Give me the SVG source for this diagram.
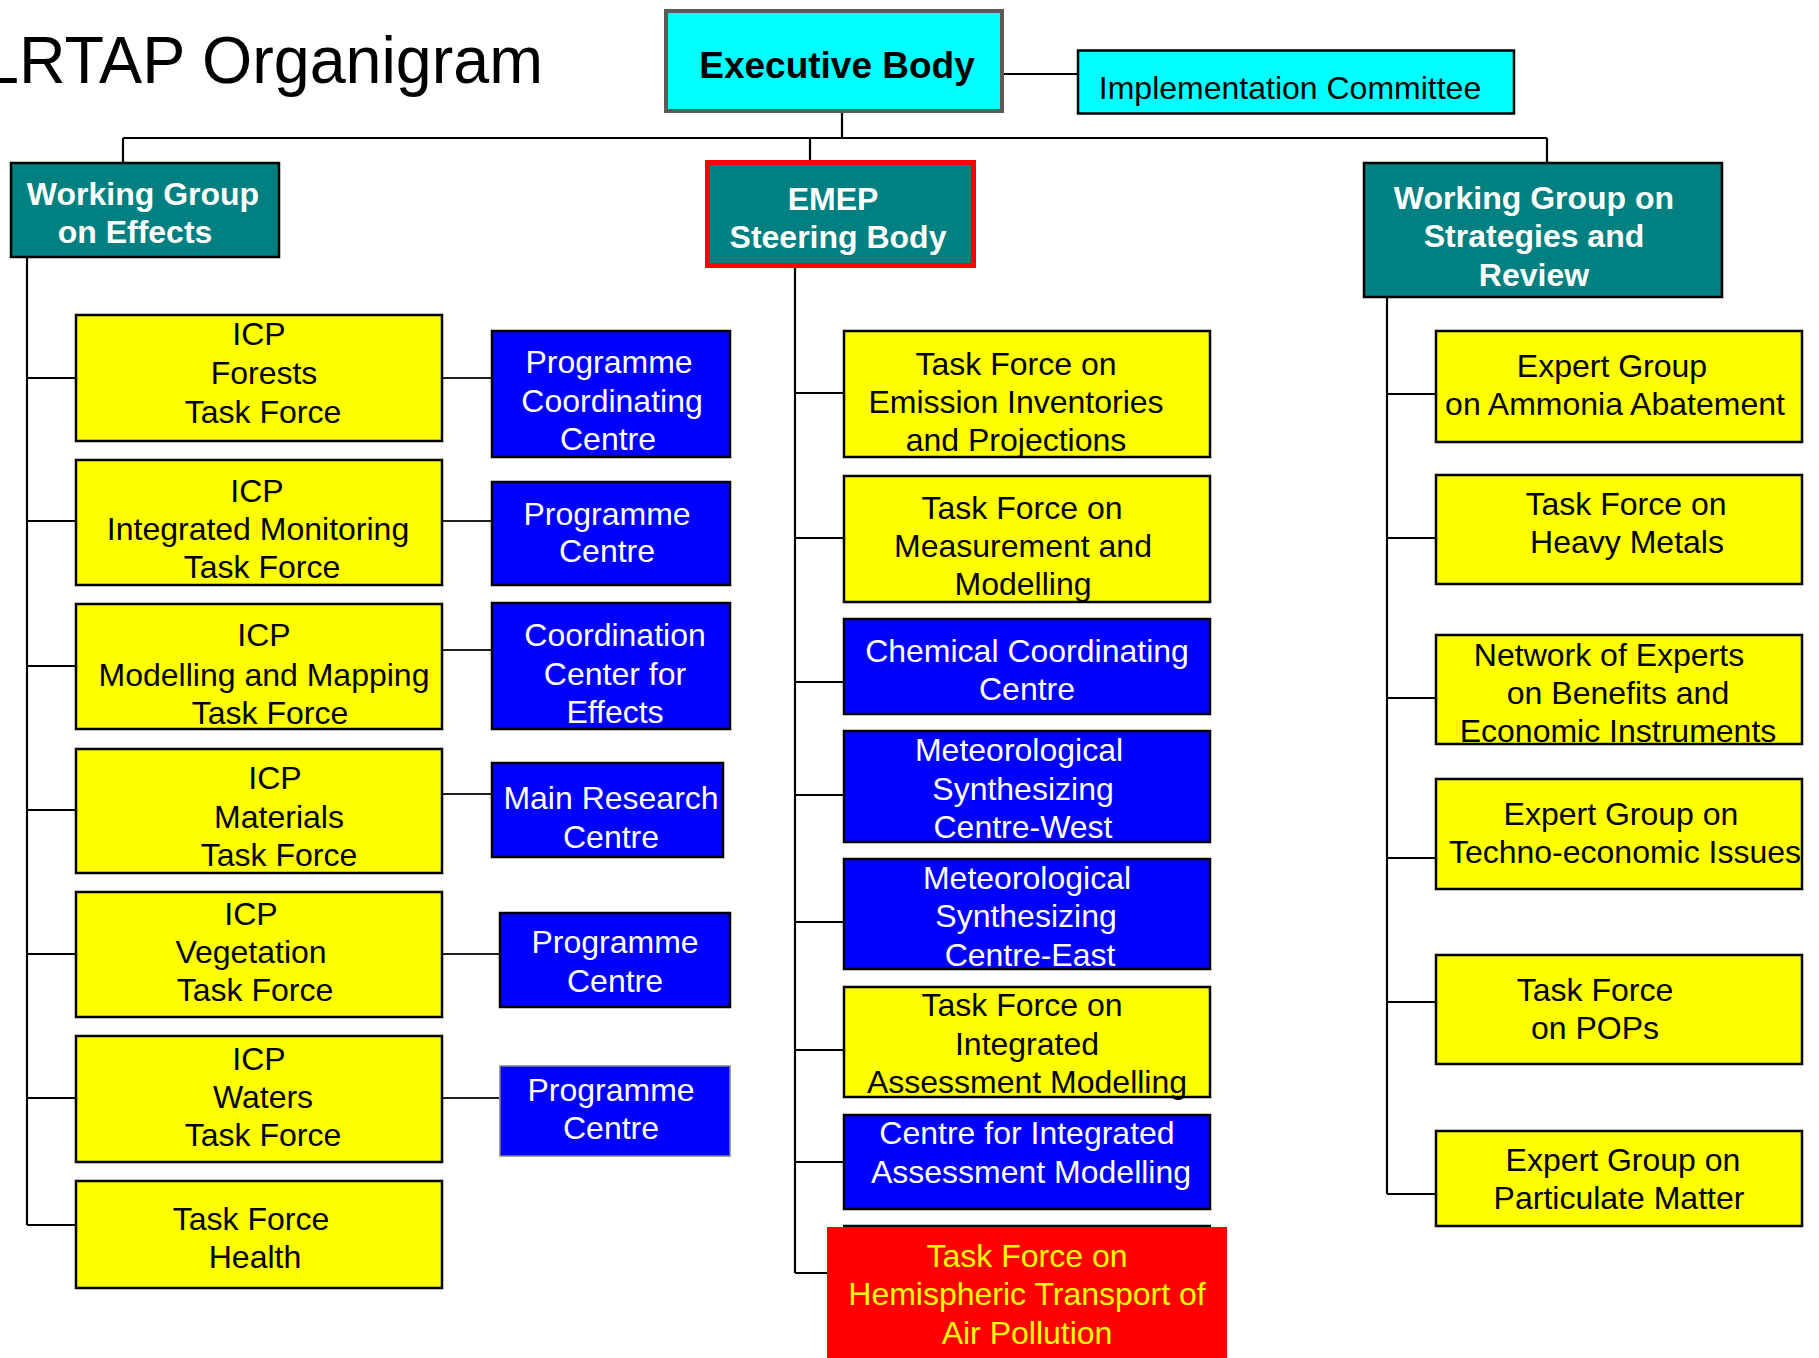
<svg xmlns="http://www.w3.org/2000/svg" width="1819" height="1358" viewBox="0 0 1819 1358">
<style>
rect{stroke:#000;stroke-width:2.5}
.y{fill:#FFFF00}
.b{fill:#0000FF}
.t{fill:#008080}
.c{fill:#00FFFF}
text{font-family:"Liberation Sans",Arial,Helvetica,sans-serif;font-size:32px;text-anchor:middle;fill:#000}
.w{fill:#fff}
.bd{font-weight:bold}
.yt{fill:#FFFF00}
#connectors path{fill:none;stroke:#000;stroke-width:2.2}
</style>
<rect x="0" y="0" width="1819" height="1358" style="fill:#fff;stroke:none"/>
<text x="-17" y="83" style="font-size:66px;text-anchor:start" textLength="560" lengthAdjust="spacingAndGlyphs">LRTAP Organigram</text>
<g id="connectors">
<path d="M1004 74H1077M842 113V138M123 138H1547M123 138V162M810 138V160M1547 138V162"/>
<path d="M27 258V1225M27 378H75M27 521H75M27 666H75M27 810H75M27 954H75M27 1098H75M27 1225H75"/>
<path d="M443 378H491M443 521H491M443 650H491M443 794H491M443 954H499M443 1098H499" style="stroke:#222"/>
<path d="M795 268V1273M795 393H843M795 538H843M795 682H843M795 795H843M795 922H843M795 1050H843M795 1162H843M795 1273H827"/>
<path d="M1387 298V1194M1387 394H1435M1387 538H1435M1387 698H1435M1387 858H1435M1387 1002H1435M1387 1194H1435"/>
</g>
<g id="executive-body"><rect class="c" x="666" y="11" width="336" height="100" style="stroke:#5f5a55;stroke-width:4"/><text class="bd" x="837" y="78" style="font-size:37px">Executive Body</text></g>
<g id="implementation-committee"><rect class="c" x="1078" y="50.5" width="436" height="63"/><text x="1290" y="99">Implementation Committee</text></g>
<g id="wg-effects"><rect class="t" x="11" y="163" width="268" height="94"/><text class="w bd" x="143" y="205">Working Group</text><text class="w bd" x="135" y="243">on Effects</text></g>
<g id="emep"><rect class="t" x="707.5" y="162.5" width="266" height="103" style="stroke:#FF0000;stroke-width:5"/><text class="w bd" x="833" y="210">EMEP</text><text class="w bd" x="838" y="248">Steering Body</text></g>
<g id="wgsr"><rect class="t" x="1364" y="163" width="358" height="134"/><text class="w bd" x="1534" y="209">Working Group on</text><text class="w bd" x="1534" y="247">Strategies and</text><text class="w bd" x="1534" y="286">Review</text></g>

<g id="icp-forests"><rect class="y" x="76" y="315" width="366" height="126"/><text x="259" y="345">ICP</text><text x="264" y="384">Forests</text><text x="263" y="423">Task Force</text></g>
<g id="icp-im"><rect class="y" x="76" y="460" width="366" height="125"/><text x="257" y="502">ICP</text><text x="258" y="540">Integrated Monitoring</text><text x="262" y="578">Task Force</text></g>
<g id="icp-mm"><rect class="y" x="76" y="604" width="366" height="125"/><text x="264" y="646">ICP</text><text x="264" y="686">Modelling and Mapping</text><text x="270" y="724">Task Force</text></g>
<g id="icp-materials"><rect class="y" x="76" y="749" width="366" height="124"/><text x="275" y="789">ICP</text><text x="279" y="828">Materials</text><text x="279" y="866">Task Force</text></g>
<g id="icp-vegetation"><rect class="y" x="76" y="892" width="366" height="125"/><text x="251" y="925">ICP</text><text x="251" y="963">Vegetation</text><text x="255" y="1001">Task Force</text></g>
<g id="icp-waters"><rect class="y" x="76" y="1036" width="366" height="126"/><text x="259" y="1070">ICP</text><text x="263" y="1108">Waters</text><text x="263" y="1146">Task Force</text></g>
<g id="tf-health"><rect class="y" x="76" y="1181" width="366" height="107"/><text x="251" y="1230">Task Force</text><text x="255" y="1268">Health</text></g>

<g id="pcc"><rect class="b" x="492" y="331" width="238" height="126"/><text class="w" x="609" y="373">Programme</text><text class="w" x="612" y="412">Coordinating</text><text class="w" x="608" y="450">Centre</text></g>
<g id="pc-im"><rect class="b" x="492" y="482" width="238" height="103"/><text class="w" x="607" y="525">Programme</text><text class="w" x="607" y="562">Centre</text></g>
<g id="cce"><rect class="b" x="492" y="603" width="238" height="126"/><text class="w" x="615" y="646">Coordination</text><text class="w" x="615" y="685">Center for</text><text class="w" x="615" y="723">Effects</text></g>
<g id="mrc"><rect class="b" x="492" y="763" width="231" height="94"/><text class="w" x="611" y="809">Main Research</text><text class="w" x="611" y="848">Centre</text></g>
<g id="pc-veg"><rect class="b" x="500" y="913" width="230" height="94"/><text class="w" x="615" y="953">Programme</text><text class="w" x="615" y="992">Centre</text></g>
<g id="pc-waters"><rect class="b" x="500" y="1066" width="230" height="90" style="stroke:#808080;stroke-width:1.5"/><text class="w" x="611" y="1101">Programme</text><text class="w" x="611" y="1139">Centre</text></g>

<g id="tf-eip"><rect class="y" x="844" y="331" width="366" height="126"/><text x="1016" y="375">Task Force on</text><text x="1016" y="413">Emission Inventories</text><text x="1016" y="451">and Projections</text></g>
<g id="tf-mm"><rect class="y" x="844" y="476" width="366" height="126"/><text x="1022" y="519">Task Force on</text><text x="1023" y="557">Measurement and</text><text x="1023" y="595">Modelling</text></g>
<g id="ccc"><rect class="b" x="844" y="619" width="366" height="95"/><text class="w" x="1027" y="662">Chemical Coordinating</text><text class="w" x="1027" y="700">Centre</text></g>
<g id="msc-w"><rect class="b" x="844" y="731" width="366" height="111"/><text class="w" x="1019" y="761">Meteorological</text><text class="w" x="1023" y="800">Synthesizing</text><text class="w" x="1023" y="838">Centre-West</text></g>
<g id="msc-e"><rect class="b" x="844" y="859" width="366" height="110"/><text class="w" x="1027" y="889">Meteorological</text><text class="w" x="1026" y="927">Synthesizing</text><text class="w" x="1030" y="966">Centre-East</text></g>
<g id="tf-iam"><rect class="y" x="844" y="987" width="366" height="110"/><text x="1022" y="1016">Task Force on</text><text x="1027" y="1055">Integrated</text><text x="1027" y="1093">Assessment Modelling</text></g>
<g id="ciam"><rect class="b" x="844" y="1115" width="366" height="94"/><text class="w" x="1027" y="1144">Centre for Integrated</text><text class="w" x="1031" y="1183">Assessment Modelling</text></g>
<g id="tf-htap"><path d="M843 1226H1211" style="stroke:#000;stroke-width:2.5"/><rect x="827" y="1227" width="400" height="131" style="fill:#FF0000;stroke:none"/><text class="yt" x="1027" y="1267">Task Force on</text><text class="yt" x="1027" y="1305">Hemispheric Transport of</text><text class="yt" x="1027" y="1344">Air Pollution</text></g>

<g id="eg-ammonia"><rect class="y" x="1436" y="331" width="366" height="111"/><text x="1612" y="377">Expert Group</text><text x="1615" y="415">on Ammonia Abatement</text></g>
<g id="tf-hm"><rect class="y" x="1436" y="475" width="366" height="109"/><text x="1626" y="515">Task Force on</text><text x="1627" y="553">Heavy Metals</text></g>
<g id="ne-bei"><rect class="y" x="1436" y="635" width="366" height="109"/><text x="1609" y="666">Network of Experts</text><text x="1618" y="704">on Benefits and</text><text x="1618" y="742">Economic Instruments</text></g>
<g id="eg-tei"><rect class="y" x="1436" y="779" width="366" height="110"/><text x="1621" y="825">Expert Group on</text><text x="1625" y="863">Techno-economic Issues</text></g>
<g id="tf-pops"><rect class="y" x="1436" y="955" width="366" height="109"/><text x="1595" y="1001">Task Force</text><text x="1595" y="1039">on POPs</text></g>
<g id="eg-pm"><rect class="y" x="1436" y="1131" width="366" height="95"/><text x="1623" y="1171">Expert Group on</text><text x="1619" y="1209">Particulate Matter</text></g>
</svg>
